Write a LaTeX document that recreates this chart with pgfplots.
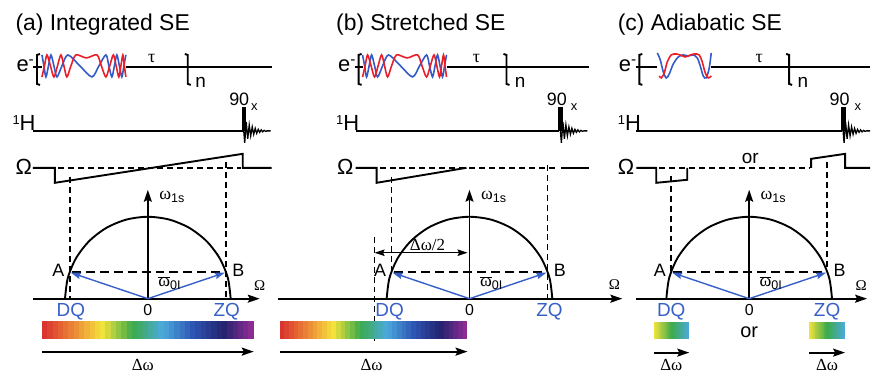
\documentclass[border=0pt]{standalone}
\usepackage{fontspec}
\setmainfont{Liberation Sans}
\newfontfamily\sym{Liberation Serif}
\usepackage{pgfplots}
\pgfplotsset{compat=1.18}
\usepackage{pgfplotstable}
\usetikzlibrary{arrows.meta}
\definecolor{myblue}{RGB}{55,95,200}
\definecolor{wred}{RGB}{235,30,40}
\definecolor{wblue}{RGB}{50,90,200}
\newcommand\fs[1]{\fontsize{#1}{#1}\selectfont}
\newcommand\oneH{{\raisebox{6.5bp}{\fs{13}1}}H}

\pgfplotstableread{
x y
42 77
44.5 66
47 55
50.5 66
54 77
57.5 66
61 55
64 66
67 77
71 66
76 55
86.5 58
97 55
101.5 66
106 77
109.8 66
113.5 55
116.3 66
119 77
121 66
123 55
124.5 66
126 77
}\redA
\pgfplotstableread{
x y
42 55
44 66
46 77
48.5 66
51 55
54 66
57 77
62 66
68 55
80 66
92 77
99 66
106 55
109 66
112 77
114.5 66
117 55
119.5 66
122 77
124 66
126 55
}\blueA
\pgfplotstableread{
x y
660 76
662 78
665 73
668 62
672 55
677 54
682 55.5
686 57
690 55.5
695 54
700 55
703 62
706 73
709 78
712 76
}\redC
\pgfplotstableread{
x y
658 53
661 60
664 72
667 78
670 74
674 64
679 57
684 55
689 56
694 55
698 58
701 66
704 76
707 78
710 68
712 53
}\blueC
\pgfplotstableread{
x y
244 131
245 143
246.5 122
248 139
249.5 125
251 136
252.5 127
254 134.5
255.5 128.5
257 133.5
258.5 129.5
260 132.5
261.5 130
263 132
264.5 130.5
266 131.5
267.5 131
271 131
}\fid
\pgfplotstableread{
dx dy
83 0
80.17 -21.48
71.88 -41.5
58.69 -58.69
41.5 -71.88
21.48 -80.17
0 -83
-21.48 -80.17
-41.5 -71.88
-58.69 -58.69
-71.88 -41.5
-80.17 -21.48
-83 0
}\semic
\pgfplotstableread{
t z
0 0
0.025 0
0.05 0
0.075 0
0.1 0
0.125 0
0.15 0
0.175 0
0.2 0
0.225 0
0.25 0
0.275 0
0.3 0
0.325 0
0.35 0
0.375 0
0.4 0
0.425 0
0.45 0
0.475 0
0.5 0
0.525 0
0.55 0
0.575 0
0.6 0
0.625 0
0.65 0
0.675 0
0.7 0
0.725 0
0.75 0
0.775 0
0.8 0
0.825 0
0.85 0
0.875 0
0.9 0
0.925 0
0.95 0
0.975 0
1 0
}\bartab

\begin{document}
\begin{tikzpicture}
\begin{axis}[width=871bp, height=375bp, scale only axis,
  xmin=0, xmax=871, ymin=0, ymax=375, y dir=reverse,
  axis lines=none, clip=false,
  point meta min=0, point meta max=1,
  colormap={spec}{rgb255=(215,45,45) rgb255=(235,130,55) rgb255=(245,228,60) rgb255=(60,170,75) rgb255=(75,170,220) rgb255=(45,85,180) rgb255=(35,35,110) rgb255=(150,45,150)},
  ln/.style={black, line width=1.9pt},
  dsh/.style={black, line width=1.8pt, dash pattern=on 6pt off 4pt},
  abd/.style={black, line width=2.2pt, dash pattern=on 9pt off 5pt},
  arr/.style={black, line width=1.8pt, -{Stealth[length=12pt,width=8pt,inset=2pt]}},
  barr/.style={myblue, line width=1.4pt, -{Stealth[length=10pt,width=6.5pt,inset=1.5pt]}},
  every node/.style={inner sep=0pt, outer sep=0pt},
]
\addplot[draw=none] coordinates {(0,0)(871,375)};

% ================= Panel (a) =================
\node[anchor=base west, font=\fs{23}] at (axis cs:12,31) {(a) Integrated SE};
\node[anchor=base west, font=\fs{22}] at (axis cs:13,72) {e\textsuperscript{-}};
\node[anchor=base west, font=\fs{22}] at (axis cs:9,131) {\oneH};
\node[anchor=base west, font=\fs{22}] at (axis cs:12,175) {Ω};
\addplot[ln] coordinates {(33,67)(42,67)};
\addplot[ln] coordinates {(126,67)(272,67)};
\addplot[ln] coordinates {(40,54)(37,55)(37,84)(40,85)};
\addplot[ln] coordinates {(185,54)(188,55)(188,84)(191,85)};
\addplot[wblue, line width=1.6pt, smooth] table {\blueA};
\addplot[wred, line width=1.6pt, smooth] table {\redA};
\node[font=\sym\fs{18}] at (axis cs:152,59) {τ};
\node[anchor=base west, font=\fs{19}] at (axis cs:192,88) {n};
\addplot[ln] coordinates {(33,131)(243,131)};
\addplot[fill=black, draw=none] coordinates {(242,107)(246.5,107)(246.5,131)(242,131)} -- cycle;
\addplot[black, line width=1.3pt] table {\fid};
\node[anchor=base west, font=\fs{18}] at (axis cs:226,106) {90};
\node[anchor=base west, font=\fs{13}] at (axis cs:248,111) {x};
\addplot[ln] coordinates {(33,168)(55,168)(55,183)(243,154)(243,168)(272,168)};
\addplot[dsh] coordinates {(58,168)(241,168)};
\addplot[dsh] coordinates {(70,177)(70,299)};
\addplot[dsh] coordinates {(226,162)(226,299)};
\addplot[ln, smooth] table[x expr=\thisrow{dx}+148, y expr=\thisrow{dy}+300] {\semic};
\addplot[arr] coordinates {(33,299)(260,299)};
\addplot[arr] coordinates {(148,300)(148,190)};
\addplot[abd] coordinates {(72,272)(224,272)};
\addplot[barr] coordinates {(148,299)(71,273)};
\addplot[barr] coordinates {(148,299)(225,273)};
\node[font=\sym\fs{15}] at (axis cs:260,286) {Ω};
\node[anchor=base west, font=\fs{18}] at (axis cs:156,200) {{\sym ω}\textsubscript{1s}};
\node[anchor=base west, font=\fs{18}] at (axis cs:155,287) {$\overline{\mbox{\sym ω}}$\textsubscript{0I}};
\node[anchor=base east, font=\fs{18}] at (axis cs:68,277) {A};
\node[anchor=base west, font=\fs{18}] at (axis cs:229,277) {B};
\node[anchor=base, font=\fs{19}, text=myblue] at (axis cs:71,317) {DQ};
\node[anchor=base, font=\fs{16}] at (axis cs:148,316) {0};
\node[anchor=base, font=\fs{19}, text=myblue] at (axis cs:227,317) {ZQ};
\addplot[mesh, line width=18pt, point meta=\thisrow{t}] table[x expr=42+212*\thisrow{t}, y expr=330] {\bartab};
\addplot[arr] coordinates {(42,352)(254,352)};
\node[anchor=base, font=\sym\fs{17}] at (axis cs:143,371) {Δω};

% ================= Panel (b) =================
\node[anchor=base west, font=\fs{23}] at (axis cs:333,31) {(b) Stretched SE};
\node[anchor=base west, font=\fs{22}] at (axis cs:335,72) {e\textsuperscript{-}};
\node[anchor=base west, font=\fs{22}] at (axis cs:333,131) {\oneH};
\node[anchor=base west, font=\fs{22}] at (axis cs:334,175) {Ω};
\addplot[ln] coordinates {(355,67)(363,67)};
\addplot[ln] coordinates {(447,67)(590,67)};
\addplot[ln] coordinates {(362,54)(359,55)(359,84)(362,85)};
\addplot[ln] coordinates {(504,54)(507,55)(507,84)(510,85)};
\addplot[wblue, line width=1.6pt, smooth] table[x expr=\thisrow{x}+321] {\blueA};
\addplot[wred, line width=1.6pt, smooth] table[x expr=\thisrow{x}+321] {\redA};
\node[font=\sym\fs{18}] at (axis cs:477,59) {τ};
\node[anchor=base west, font=\fs{19}] at (axis cs:512,88) {n};
\addplot[ln] coordinates {(356,131)(560,131)};
\addplot[fill=black, draw=none] coordinates {(559,107)(563.5,107)(563.5,131)(559,131)} -- cycle;
\addplot[black, line width=1.3pt] table[x expr=\thisrow{x}+317] {\fid};
\node[anchor=base west, font=\fs{18}] at (axis cs:544,106) {90};
\node[anchor=base west, font=\fs{13}] at (axis cs:568,111) {x};
\addplot[ln] coordinates {(356,168)(377,168)(377,183)(467,168)};
\addplot[dsh] coordinates {(380,168)(556,168)};
\addplot[ln] coordinates {(562,168)(590,168)};
\addplot[dsh] coordinates {(392,177)(392,272)};
\addplot[dsh] coordinates {(548,165)(548,299)};
\addplot[dsh] coordinates {(375,237)(375,341)};
\addplot[ln, smooth] table[x expr=\thisrow{dx}+470, y expr=\thisrow{dy}+300] {\semic};
\addplot[arr] coordinates {(278,299)(623,299)};
\addplot[arr] coordinates {(470,300)(470,190)};
\addplot[abd] coordinates {(394,272)(546,272)};
\addplot[barr] coordinates {(470,299)(393,273)};
\addplot[barr] coordinates {(470,299)(547,273)};
\addplot[black, line width=1.4pt, {Stealth[length=10pt,width=6.5pt,inset=1.5pt]}-{Stealth[length=10pt,width=6.5pt,inset=1.5pt]}] coordinates {(375,253)(468,253)};
\node[anchor=base, font=\sym\fs{17}] at (axis cs:428,251) {Δω/2};
\node[font=\sym\fs{15}] at (axis cs:615,285) {Ω};
\node[anchor=base west, font=\fs{18}] at (axis cs:478,200) {{\sym ω}\textsubscript{1s}};
\node[anchor=base west, font=\fs{18}] at (axis cs:477,287) {$\overline{\mbox{\sym ω}}$\textsubscript{0I}};
\node[anchor=base east, font=\fs{18}] at (axis cs:390,277) {A};
\node[anchor=base west, font=\fs{18}] at (axis cs:551,277) {B};
\node[anchor=base, font=\fs{19}, text=myblue] at (axis cs:390,317) {DQ};
\node[anchor=base, font=\fs{16}] at (axis cs:470,316) {0};
\node[anchor=base, font=\fs{19}, text=myblue] at (axis cs:550,317) {ZQ};
\addplot[mesh, line width=18pt, point meta=\thisrow{t}] table[x expr=280+188*\thisrow{t}, y expr=330] {\bartab};
\addplot[arr] coordinates {(280,352)(468,352)};
\node[anchor=base, font=\sym\fs{17}] at (axis cs:372,371) {Δω};

% ================= Panel (c) =================
\node[anchor=base west, font=\fs{23}] at (axis cs:615,31) {(c) Adiabatic SE};
\node[anchor=base west, font=\fs{22}] at (axis cs:616,72) {e\textsuperscript{-}};
\node[anchor=base west, font=\fs{22}] at (axis cs:615,131) {\oneH};
\node[anchor=base west, font=\fs{22}] at (axis cs:615,175) {Ω};
\addplot[ln] coordinates {(637,67)(658,67)};
\addplot[ln] coordinates {(712,67)(871,67)};
\addplot[ln] coordinates {(643,54)(640,55)(640,84)(643,85)};
\addplot[ln] coordinates {(787,54)(790,55)(790,84)(793,85)};
\addplot[wblue, line width=1.6pt, smooth] table {\blueC};
\addplot[wred, line width=1.6pt, smooth] table {\redC};
\node[font=\sym\fs{18}] at (axis cs:760,59) {τ};
\node[anchor=base west, font=\fs{19}] at (axis cs:795,88) {n};
\addplot[ln] coordinates {(637,131)(843,131)};
\addplot[fill=black, draw=none] coordinates {(842,107)(846.5,107)(846.5,131)(842,131)} -- cycle;
\addplot[black, line width=1.3pt] table[x expr=\thisrow{x}+600] {\fid};
\node[anchor=base west, font=\fs{18}] at (axis cs:827,106) {90};
\node[anchor=base west, font=\fs{13}] at (axis cs:852,111) {x};
\addplot[ln] coordinates {(637,168)(657,168)(657,183)(688,180)(688,168)};
\addplot[dsh] coordinates {(660,168)(810,168)};
\addplot[ln] coordinates {(812,168)(812,159)(846,154)(846,168)(871,168)};
\node[anchor=base, font=\fs{19}] at (axis cs:751,164) {or};
\addplot[dsh] coordinates {(672,176)(672,272)};
\addplot[dsh] coordinates {(828,162)(828,272)};
\addplot[ln, smooth] table[x expr=\thisrow{dx}+750, y expr=\thisrow{dy}+300] {\semic};
\addplot[arr] coordinates {(637,299)(868,299)};
\addplot[arr] coordinates {(750,300)(750,190)};
\addplot[abd] coordinates {(674,272)(826,272)};
\addplot[barr] coordinates {(750,299)(673,273)};
\addplot[barr] coordinates {(750,299)(827,273)};
\node[font=\sym\fs{15}] at (axis cs:862,286) {Ω};
\node[anchor=base west, font=\fs{18}] at (axis cs:758,200) {{\sym ω}\textsubscript{1s}};
\node[anchor=base west, font=\fs{18}] at (axis cs:757,287) {$\overline{\mbox{\sym ω}}$\textsubscript{0I}};
\node[anchor=base east, font=\fs{18}] at (axis cs:670,277) {A};
\node[anchor=base west, font=\fs{18}] at (axis cs:831,277) {B};
\node[anchor=base, font=\fs{19}, text=myblue] at (axis cs:672,317) {DQ};
\node[anchor=base, font=\fs{16}] at (axis cs:750,316) {0};
\node[anchor=base, font=\fs{19}, text=myblue] at (axis cs:828,317) {ZQ};
\addplot[mesh, line width=17pt, point meta={0.286+0.285*\thisrow{t}}] table[x expr=655+35*\thisrow{t}, y expr=330.5] {\bartab};
\addplot[mesh, line width=17pt, point meta={0.286+0.285*\thisrow{t}}] table[x expr=810+36*\thisrow{t}, y expr=330.5] {\bartab};
\node[anchor=base, font=\fs{20}] at (axis cs:750,338) {or};
\addplot[arr] coordinates {(655,353)(690,353)};
\addplot[arr] coordinates {(810,353)(846,353)};
\node[anchor=base, font=\sym\fs{17}] at (axis cs:672,371) {Δω};
\node[anchor=base, font=\sym\fs{17}] at (axis cs:828,371) {Δω};
\end{axis}
\end{tikzpicture}
\end{document}
